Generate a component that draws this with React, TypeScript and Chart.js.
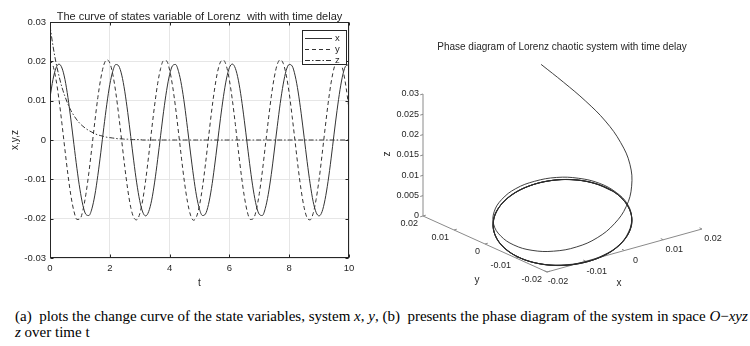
import React, { useEffect, useRef } from "react";
import { Chart, registerables } from "chart.js";

Chart.register(...registerables);

// ---------------- data ----------------
const T = [
  0, 0.1, 0.2, 0.3, 0.4, 0.5, 0.6, 0.7, 0.8, 0.9,
  1, 1.1, 1.2, 1.3, 1.4, 1.5, 1.6, 1.7, 1.8, 1.9,
  2, 2.1, 2.2, 2.3, 2.4, 2.5, 2.6, 2.7, 2.8, 2.9,
  3, 3.1, 3.2, 3.3, 3.4, 3.5, 3.6, 3.7, 3.8, 3.9,
  4, 4.1, 4.2, 4.3, 4.4, 4.5, 4.6, 4.7, 4.8, 4.9,
  5, 5.1, 5.2, 5.3, 5.4, 5.5, 5.6, 5.7, 5.8, 5.9,
  6, 6.1, 6.2, 6.3, 6.4, 6.5, 6.6, 6.7, 6.8, 6.9,
  7, 7.1, 7.2, 7.3, 7.4, 7.5, 7.6, 7.7, 7.8, 7.9,
  8, 8.1, 8.2, 8.3, 8.4, 8.5, 8.6, 8.7, 8.8, 8.9,
  9, 9.1, 9.2, 9.3, 9.4, 9.5, 9.6, 9.7, 9.8, 9.9,
  10,
];

const X_VALUES = [
  0.0108, 0.0154, 0.0183, 0.0193, 0.0183, 0.0154, 0.0108, 0.0051, -0.0011, -0.0072,
  -0.0125, -0.0166, -0.0189, -0.0192, -0.0175, -0.0140, -0.0090, -0.0031, 0.0032, 0.0091,
  0.0141, 0.0175, 0.0192, 0.0188, 0.0165, 0.0124, 0.0070, 0.0009, -0.0053, -0.0109,
  -0.0154, -0.0183, -0.0193, -0.0182, -0.0153, -0.0107, -0.0050, 0.0012, 0.0073, 0.0126,
  0.0166, 0.0189, 0.0192, 0.0174, 0.0139, 0.0089, 0.0029, -0.0033, -0.0092, -0.0142,
  -0.0176, -0.0192, -0.0188, -0.0164, -0.0123, -0.0069, -0.0008, 0.0054, 0.0110, 0.0155,
  0.0184, 0.0193, 0.0182, 0.0152, 0.0106, 0.0049, -0.0013, -0.0074, -0.0127, -0.0167,
  -0.0189, -0.0192, -0.0174, -0.0138, -0.0088, -0.0028, 0.0034, 0.0093, 0.0142, 0.0177,
  0.0192, 0.0188, 0.0163, 0.0122, 0.0068, 0.0007, -0.0055, -0.0111, -0.0156, -0.0184,
  -0.0193, -0.0182, -0.0151, -0.0105, -0.0048, 0.0015, 0.0075, 0.0128, 0.0168, 0.0189,
  0.0191,
];

const Y_VALUES = [
  0.0204, 0.0189, 0.0154, 0.0103, 0.0041, -0.0025, -0.0088, -0.0142, -0.0181, -0.0202,
  -0.0201, -0.0179, -0.0138, -0.0083, -0.0019, 0.0047, 0.0108, 0.0157, 0.0191, 0.0204,
  0.0196, 0.0167, 0.0121, 0.0062, -0.0003, -0.0068, -0.0126, -0.0171, -0.0197, -0.0203,
  -0.0188, -0.0153, -0.0102, -0.0040, 0.0026, 0.0089, 0.0143, 0.0182, 0.0202, 0.0201,
  0.0178, 0.0137, 0.0082, 0.0018, -0.0048, -0.0109, -0.0158, -0.0191, -0.0204, -0.0195,
  -0.0166, -0.0120, -0.0061, 0.0005, 0.0070, 0.0127, 0.0172, 0.0198, 0.0203, 0.0188,
  0.0152, 0.0101, 0.0039, -0.0027, -0.0090, -0.0144, -0.0183, -0.0202, -0.0200, -0.0178,
  -0.0136, -0.0081, -0.0016, 0.0049, 0.0110, 0.0159, 0.0192, 0.0204, 0.0195, 0.0165,
  0.0119, 0.0059, -0.0006, -0.0071, -0.0128, -0.0172, -0.0198, -0.0203, -0.0187, -0.0151,
  -0.0100, -0.0037, 0.0029, 0.0092, 0.0145, 0.0183, 0.0202, 0.0200, 0.0177, 0.0135,
  0.0079,
];

const Z_VALUES = [
  0.0290, 0.0239, 0.0197, 0.0163, 0.0134, 0.0111, 0.0091, 0.0075, 0.0062, 0.0051,
  0.0042, 0.0035, 0.0029, 0.0024, 0.0020, 0.0016, 0.0013, 0.0011, 0.0009, 0.0007,
  0.0006, 0.0005, 0.0004, 0.0003, 0.0003, 0.0002, 0.0002, 0.0001, 0.0001, 0.0001,
  0.0001, 0, 0, 0, 0, 0, 0, 0, 0, 0,
  0, 0, 0, 0, 0, 0, 0, 0, 0, 0,
  0, 0, 0, 0, 0, 0, 0, 0, 0, 0,
  0, 0, 0, 0, 0, 0, 0, 0, 0, 0,
  0, 0, 0, 0, 0, 0, 0, 0, 0, 0,
  0, 0, 0, 0, 0, 0, 0, 0, 0, 0,
  0, 0, 0, 0, 0, 0, 0, 0, 0, 0,
  0,
];

const SERIES_NAMES = ["x", "y", "z"];
const TIME_TICKS = [0, 2, 4, 6, 8, 10];
const STATE_TICKS = [-0.03, -0.02, -0.01, 0, 0.01, 0.02, 0.03];
const PHASE_X_TICKS = [-0.02, -0.01, 0, 0.01, 0.02];
const PHASE_Y_TICKS = [-0.02, -0.01, 0, 0.01, 0.02];
const PHASE_Z_TICKS = [0, 0.005, 0.01, 0.015, 0.02, 0.025, 0.03];

const LEFT_TITLE = "The curve of states variable of Lorenz  with with time delay";
const RIGHT_TITLE = "Phase diagram of Lorenz chaotic system with time delay";
const X_AXIS_TITLE = "t";
const Y_AXIS_TITLE = "x,y,z";

// ---------------- style ----------------
const FONT = "'Liberation Sans', Arial, sans-serif";
const INK = "#262626";
const CURVE = "#333333";
const GRID = "#e6e6e6";
const AXIS3D = "#8a8a8a";
const DASHES: number[][] = [[], [4, 3], [5, 2, 1.5, 2]];

const fmt = (v: number) => {
  const r = Math.round(v * 100000) / 100000;
  return r === 0 ? "0" : String(r);
};

// 3D projection (layout constants, canvas pixels)
const P_ORIGIN = { x: 177, y: 272 }; // x=-0.02, y=-0.02, z=0
const EX = { x: 155 / 0.04, y: -43 / 0.04 };
const EY = { x: -124 / 0.04, y: -56 / 0.04 };
const EZ = { x: 0, y: -122 / 0.03 };

function project(x: number, y: number, z: number) {
  const dx = x - PHASE_X_TICKS[0];
  const dy = y - PHASE_Y_TICKS[0];
  return {
    x: P_ORIGIN.x + dx * EX.x + dy * EY.x + z * EZ.x,
    y: P_ORIGIN.y + dx * EX.y + dy * EY.y + z * EZ.y,
  };
}

const leftDecor = {
  id: "leftDecor",
  afterDraw(chart: any) {
    const { ctx, chartArea: a, scales } = chart;
    const xs = scales.x;
    const ys = scales.y;
    ctx.save();
    ctx.strokeStyle = INK;
    ctx.lineWidth = 1;
    ctx.setLineDash([]);
    const L = Math.round(a.left) + 0.5;
    const R = Math.round(a.right) - 0.5;
    const Tp = Math.round(a.top) + 0.5;
    const B = Math.round(a.bottom) - 0.5;
    ctx.strokeRect(L, Tp, R - L, B - Tp);
    ctx.beginPath();
    TIME_TICKS.forEach((v) => {
      const px = Math.round(xs.getPixelForValue(v)) + 0.5;
      ctx.moveTo(px, B);
      ctx.lineTo(px, B - 3);
      ctx.moveTo(px, Tp);
      ctx.lineTo(px, Tp + 3);
    });
    STATE_TICKS.forEach((v) => {
      const py = Math.round(ys.getPixelForValue(v)) + 0.5;
      ctx.moveTo(L, py);
      ctx.lineTo(L + 3, py);
      ctx.moveTo(R, py);
      ctx.lineTo(R - 3, py);
    });
    ctx.stroke();

    ctx.fillStyle = INK;
    ctx.font = `11px ${FONT}`;
    ctx.textAlign = "center";
    ctx.textBaseline = "middle";
    ctx.fillText(LEFT_TITLE, (a.left + a.right) / 2, 16.5);
    ctx.font = `10px ${FONT}`;
    ctx.fillText(X_AXIS_TITLE, (a.left + a.right) / 2, 283);
    ctx.save();
    ctx.translate(15, (a.top + a.bottom) / 2);
    ctx.rotate(-Math.PI / 2);
    ctx.fillText(Y_AXIS_TITLE, 0, 0);
    ctx.restore();

    // legend
    const bx = 302.5, by = 30.5, bw = 44, bh = 34;
    ctx.fillStyle = "#ffffff";
    ctx.fillRect(bx, by, bw, bh);
    ctx.strokeStyle = INK;
    ctx.strokeRect(bx, by, bw, bh);
    ctx.font = `9.5px ${FONT}`;
    ctx.textAlign = "left";
    SERIES_NAMES.forEach((name, i) => {
      const yy = 38.5 + i * 11;
      ctx.strokeStyle = CURVE;
      ctx.setLineDash(DASHES[i]);
      ctx.beginPath();
      ctx.moveTo(305, yy);
      ctx.lineTo(332, yy);
      ctx.stroke();
      ctx.setLineDash([]);
      ctx.fillStyle = INK;
      ctx.fillText(name, 335, yy);
    });
    ctx.restore();
  },
};

const rightDecor = {
  id: "rightDecor",
  beforeDatasetsDraw(chart: any) {
    const { ctx, scales } = chart;
    const sx = (p: { x: number; y: number }) => ({
      x: scales.x.getPixelForValue(p.x),
      y: scales.y.getPixelForValue(p.y),
    });
    const x0 = PHASE_X_TICKS[0];
    const x1 = PHASE_X_TICKS[PHASE_X_TICKS.length - 1];
    const y0 = PHASE_Y_TICKS[0];
    const y1 = PHASE_Y_TICKS[PHASE_Y_TICKS.length - 1];
    const z0 = PHASE_Z_TICKS[0];
    const z1 = PHASE_Z_TICKS[PHASE_Z_TICKS.length - 1];
    ctx.save();
    ctx.strokeStyle = AXIS3D;
    ctx.lineWidth = 1;
    const seg = (a: any, b: any) => {
      ctx.moveTo(a.x, a.y);
      ctx.lineTo(b.x, b.y);
    };
    ctx.beginPath();
    seg(sx(project(x0, y0, z0)), sx(project(x1, y0, z0))); // x axis
    seg(sx(project(x0, y0, z0)), sx(project(x0, y1, z0))); // y axis
    seg(sx(project(x0, y1, z0)), sx(project(x0, y1, z1))); // z axis
    // ticks
    PHASE_X_TICKS.forEach((v) => {
      const p = sx(project(v, y0, z0));
      seg(p, { x: p.x - 2.5, y: p.y - 1.2 });
    });
    PHASE_Y_TICKS.forEach((v) => {
      const p = sx(project(x0, v, z0));
      seg(p, { x: p.x + 2.8, y: p.y - 0.8 });
    });
    PHASE_Z_TICKS.forEach((v) => {
      const p = sx(project(x0, y1, v));
      seg(p, { x: p.x - 2.8, y: p.y + 0.8 });
    });
    ctx.stroke();

    ctx.fillStyle = INK;
    ctx.font = `9px ${FONT}`;
    ctx.textBaseline = "middle";
    ctx.textAlign = "center";
    PHASE_X_TICKS.forEach((v) => {
      const p = sx(project(v, y0, z0));
      ctx.fillText(fmt(v), p.x + 11, p.y + 10);
    });
    ctx.textAlign = "right";
    PHASE_Y_TICKS.forEach((v) => {
      const p = sx(project(x0, v, z0));
      ctx.fillText(fmt(v), p.x - 5, p.y + 8);
    });
    PHASE_Z_TICKS.forEach((v) => {
      const p = sx(project(x0, y1, v));
      ctx.fillText(fmt(v), p.x - 4, p.y);
    });

    ctx.font = `10px ${FONT}`;
    ctx.textAlign = "center";
    ctx.fillText(RIGHT_TITLE, 192, 47);
    ctx.fillText("x", 249, 283);
    ctx.fillText("y", 107, 280);
    ctx.save();
    ctx.translate(17, 154);
    ctx.rotate(-Math.PI / 2);
    ctx.fillText("z", 0, 0);
    ctx.restore();
    ctx.restore();
  },
};

function StateChart() {
  const ref = useRef<HTMLCanvasElement>(null);
  useEffect(() => {
    const series = [X_VALUES, Y_VALUES, Z_VALUES];
    const chart = new Chart(ref.current!, {
      type: "line",
      data: {
        datasets: series.map((vals, i) => ({
          label: SERIES_NAMES[i],
          data: T.map((t, k) => ({ x: t, y: vals[k] })),
          borderColor: CURVE,
          borderWidth: 1,
          borderDash: DASHES[i],
          pointRadius: 0,
          fill: false,
          cubicInterpolationMode: "monotone" as const,
        })),
      },
      options: {
        animation: false,
        responsive: false,
        events: [],
        layout: { padding: { left: 0, right: 21, top: 22, bottom: 0 } },
        plugins: { legend: { display: false }, tooltip: { enabled: false }, title: { display: false } },
        scales: {
          x: {
            type: "linear",
            min: 0,
            max: 10,
            afterBuildTicks: (s: any) => {
              s.ticks = TIME_TICKS.map((v) => ({ value: v }));
            },
            afterFit: (s: any) => {
              s.height = 32;
            },
            grid: { color: GRID, drawTicks: false },
            border: { display: false },
            ticks: {
              padding: 5,
              color: INK,
              maxRotation: 0,
              autoSkip: false,
              font: { family: FONT, size: 9.5 },
              callback: (v: any) => fmt(Number(v)),
            },
          },
          y: {
            type: "linear",
            min: -0.03,
            max: 0.03,
            afterBuildTicks: (s: any) => {
              s.ticks = STATE_TICKS.map((v) => ({ value: v }));
            },
            afterFit: (s: any) => {
              s.width = 50;
            },
            grid: { color: GRID, drawTicks: false },
            border: { display: false },
            ticks: {
              padding: 4,
              color: INK,
              autoSkip: false,
              font: { family: FONT, size: 9.5 },
              callback: (v: any) => fmt(Number(v)),
            },
          },
        },
      },
      plugins: [leftDecor],
    } as any);
    return () => chart.destroy();
  }, []);
  return (
    <canvas ref={ref} width={370} height={290} style={{ position: "absolute", left: 0, top: 0 }} />
  );
}

function PhaseChart() {
  const ref = useRef<HTMLCanvasElement>(null);
  useEffect(() => {
    const pts = T.map((_, k) => project(X_VALUES[k], Y_VALUES[k], Z_VALUES[k]));
    const chart = new Chart(ref.current!, {
      type: "scatter",
      data: {
        datasets: [
          {
            label: "trajectory",
            data: pts,
            showLine: true,
            borderColor: "#2a2a2a",
            borderWidth: 0.9,
            pointRadius: 0,
            tension: 0.4,
            fill: false,
            clip: false,
          },
        ],
      },
      options: {
        animation: false,
        responsive: false,
        events: [],
        layout: { padding: 0 },
        plugins: { legend: { display: false }, tooltip: { enabled: false } },
        scales: {
          x: { type: "linear", display: false, min: 0, max: 380 },
          y: { type: "linear", display: false, min: 0, max: 290, reverse: true },
        },
      },
      plugins: [rightDecor],
    } as any);
    return () => chart.destroy();
  }, []);
  return (
    <canvas ref={ref} width={380} height={290} style={{ position: "absolute", left: 370, top: 0 }} />
  );
}

export default function App() {
  return (
    <div
      style={{
        position: "fixed",
        left: 0,
        top: 0,
        width: 750,
        height: 346,
        background: "#ffffff",
        overflow: "hidden",
      }}
    >
      <StateChart />
      <PhaseChart />
      <div
        style={{
          position: "absolute",
          left: 15,
          top: 308,
          width: 735,
          fontFamily: "'Liberation Serif', 'Times New Roman', serif",
          fontSize: 15,
          lineHeight: "16px",
          color: "#000",
          whiteSpace: "nowrap",
        }}
      >
        (a)&nbsp; plots the change curve of the state variables, system <i>x</i>, <i>y</i>, (b)&nbsp; presents the phase diagram of the system in space <i>O</i>−<i>xyz</i>
        <br />
        <i>z</i> over time t
      </div>
    </div>
  );
}
